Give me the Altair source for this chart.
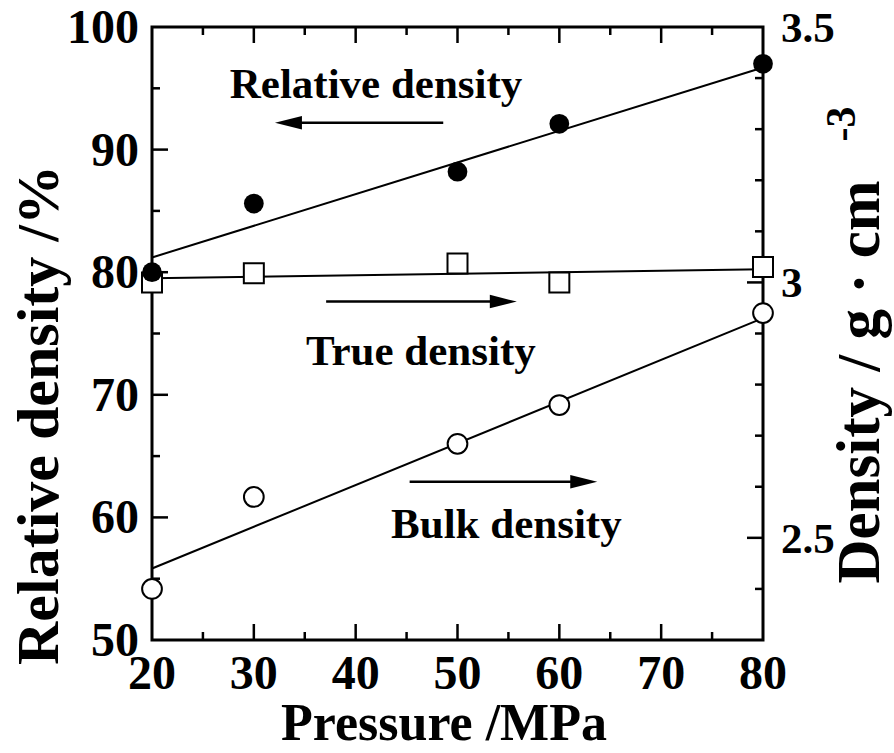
import altair as alt
import pandas as pd

# ---------------- data ----------------
pressure = [20, 30, 50, 60, 80]
relative_density = [80.0, 85.6, 88.2, 92.1, 97.0]      # left axis (%)
true_density = [3.00, 3.018, 3.037, 3.00, 3.03]        # right axis (g/cm3)
bulk_density = [2.40, 2.58, 2.684, 2.76, 2.94]         # right axis (g/cm3)

fit_pressure = [20, 80]
relative_fit = [81.2, 96.7]
true_fit = [3.008, 3.026]
bulk_fit = [2.44, 2.93]

x_labels = [20, 30, 40, 50, 60, 70, 80]
x_major = [30, 40, 50, 60, 70]
x_minor = [25, 35, 45, 55, 65, 75]
left_labels = [50, 60, 70, 80, 90, 100]
left_major = [60, 70, 80, 90]
left_minor = [55, 65, 75, 85, 95]
right_labels = [2.5, 3.0, 3.5]
right_major = [2.5, 3.0]
right_minor = [2.4, 2.6, 2.7, 2.8, 2.9, 3.1, 3.2, 3.3, 3.4]

x_title = "Pressure /MPa"
left_title = "Relative density /%"
right_title = "Density / g · cm"
right_title_sup = "-3"

ann_text = ["Relative density", "True density", "Bulk density"]
ann_x = [42.0, 46.4, 54.8]
ann_y = [94.2, 72.4, 58.3]

arrow_x_start = [48.6, 37.1, 45.3]
arrow_x_head = [33.4, 54.5, 62.4]
arrow_y = [92.2, 77.6, 62.9]
arrow_dir = ["left", "right", "right"]

# ---------------- layout ----------------
W, H = 611, 613
FONT = "Liberation Serif"

xs = alt.Scale(domain=[20, 80], nice=False, zero=False)
ly = alt.Scale(domain=[50, 100], nice=False, zero=False)
ry = alt.Scale(domain=[2.3, 3.5], nice=False, zero=False)

main_df = pd.DataFrame({"p": pressure, "rel": relative_density,
                        "tru": true_density, "bulk": bulk_density})
fit_df = pd.DataFrame({"p": fit_pressure, "rel": relative_fit,
                       "tru": true_fit, "bulk": bulk_fit})

X = alt.X("p:Q", scale=xs, axis=None)


def txt(**kw):
    base = dict(font=FONT, fontWeight="bold", color="black")
    base.update(kw)
    return base


# ---------- right group (density g/cm3) ----------
true_line = alt.Chart(fit_df).mark_line(color="black", strokeWidth=2).encode(
    x=X, y=alt.Y("tru:Q", scale=ry, axis=None))
bulk_line = alt.Chart(fit_df).mark_line(color="black", strokeWidth=2).encode(
    x=X, y=alt.Y("bulk:Q", scale=ry, axis=None))
true_pts = alt.Chart(main_df).mark_point(shape="square", size=400, filled=True,
                                         fill="white", stroke="black", strokeWidth=2,
                                         opacity=1).encode(
    x=X, y=alt.Y("tru:Q", scale=ry, axis=None))
bulk_pts = alt.Chart(main_df).mark_point(shape="circle", size=390, filled=True,
                                         fill="white", stroke="black", strokeWidth=2,
                                         opacity=1).encode(
    x=X, y=alt.Y("bulk:Q", scale=ry, axis=None))

rmaj_df = pd.DataFrame({"v": right_major})
rmin_df = pd.DataFrame({"v": right_minor})
r_major_ticks = alt.Chart(rmaj_df).mark_rule(color="black", strokeWidth=2.5).encode(
    y=alt.Y("v:Q", scale=ry, axis=None), x=alt.value(W), x2=alt.value(W - 16))
r_minor_ticks = alt.Chart(rmin_df).mark_rule(color="black", strokeWidth=2.5).encode(
    y=alt.Y("v:Q", scale=ry, axis=None), x=alt.value(W), x2=alt.value(W - 8))

rl_df = pd.DataFrame({"v": right_labels, "t": [f"{v:g}" for v in right_labels]})
r_labels = alt.Chart(rl_df).mark_text(**txt(fontSize=43, align="left",
                                            baseline="alphabetic", dy=15)).encode(
    y=alt.Y("v:Q", scale=ry, axis=None), x=alt.value(W + 18), text="t:N")

rt_df = pd.DataFrame({"t": [right_title]})
r_title = alt.Chart(rt_df).mark_text(**txt(fontSize=61, angle=270, align="center",
                                           baseline="alphabetic")).encode(
    text="t:N", x=alt.value(W + 116), y=alt.value(355))
rs_df = pd.DataFrame({"t": [right_title_sup]})
r_sup = alt.Chart(rs_df).mark_text(**txt(fontSize=42, angle=270, align="center",
                                         baseline="alphabetic")).encode(
    text="t:N", x=alt.value(W + 92), y=alt.value(97))

right_group = alt.layer(true_line, bulk_line, r_major_ticks, r_minor_ticks,
                        true_pts, bulk_pts, r_labels, r_title, r_sup)

# ---------- left group (relative density %) ----------
rel_line = alt.Chart(fit_df).mark_line(color="black", strokeWidth=2).encode(
    x=X, y=alt.Y("rel:Q", scale=ly, axis=None))
rel_pts = alt.Chart(main_df).mark_point(shape="circle", size=390, filled=True,
                                        color="black", opacity=1).encode(
    x=X, y=alt.Y("rel:Q", scale=ly, axis=None))

lmaj_df = pd.DataFrame({"v": left_major})
lmin_df = pd.DataFrame({"v": left_minor})
l_major_ticks = alt.Chart(lmaj_df).mark_rule(color="black", strokeWidth=2.5).encode(
    y=alt.Y("v:Q", scale=ly, axis=None), x=alt.value(0), x2=alt.value(16))
l_minor_ticks = alt.Chart(lmin_df).mark_rule(color="black", strokeWidth=2.5).encode(
    y=alt.Y("v:Q", scale=ly, axis=None), x=alt.value(0), x2=alt.value(8))

ll_df = pd.DataFrame({"v": left_labels, "t": [str(v) for v in left_labels]})
l_labels = alt.Chart(ll_df).mark_text(**txt(fontSize=48, align="right",
                                            baseline="alphabetic", dy=16)).encode(
    y=alt.Y("v:Q", scale=ly, axis=None), x=alt.value(-13), text="t:N")

lt_df = pd.DataFrame({"t": [left_title]})
l_title = alt.Chart(lt_df).mark_text(**txt(fontSize=60, angle=270, align="center",
                                           baseline="alphabetic")).encode(
    text="t:N", x=alt.value(-94), y=alt.value(388))

xmaj_df = pd.DataFrame({"v": x_major})
xmin_df = pd.DataFrame({"v": x_minor})
xb_major = alt.Chart(xmaj_df).mark_rule(color="black", strokeWidth=2.5).encode(
    x=alt.X("v:Q", scale=xs, axis=None), y=alt.value(H), y2=alt.value(H - 16))
xb_minor = alt.Chart(xmin_df).mark_rule(color="black", strokeWidth=2.5).encode(
    x=alt.X("v:Q", scale=xs, axis=None), y=alt.value(H), y2=alt.value(H - 8))
xt_major = alt.Chart(xmaj_df).mark_rule(color="black", strokeWidth=2.5).encode(
    x=alt.X("v:Q", scale=xs, axis=None), y=alt.value(0), y2=alt.value(16))
xt_minor = alt.Chart(xmin_df).mark_rule(color="black", strokeWidth=2.5).encode(
    x=alt.X("v:Q", scale=xs, axis=None), y=alt.value(0), y2=alt.value(8))

xl_df = pd.DataFrame({"v": x_labels, "t": [str(v) for v in x_labels]})
x_tick_labels = alt.Chart(xl_df).mark_text(**txt(fontSize=48, align="center",
                                                 baseline="alphabetic")).encode(
    x=alt.X("v:Q", scale=xs, axis=None), y=alt.value(H + 49), text="t:N")

xt_df = pd.DataFrame({"t": [x_title]})
x_title_mark = alt.Chart(xt_df).mark_text(**txt(fontSize=52, align="center",
                                                baseline="alphabetic")).encode(
    text="t:N", x=alt.value(292), y=alt.value(H + 100))

ann_df = pd.DataFrame({"t": ann_text, "x": ann_x, "y": ann_y})
ann = alt.Chart(ann_df).mark_text(**txt(fontSize=43, align="center",
                                        baseline="alphabetic")).encode(
    text="t:N", x=alt.X("x:Q", scale=xs, axis=None),
    y=alt.Y("y:Q", scale=ly, axis=None))

arr_df = pd.DataFrame({"x1": arrow_x_start, "x2": arrow_x_head, "y": arrow_y,
                       "d": arrow_dir})
arrow_body = alt.Chart(arr_df).mark_rule(color="black", strokeWidth=2.5).encode(
    x=alt.X("x1:Q", scale=xs, axis=None), x2="x2:Q",
    y=alt.Y("y:Q", scale=ly, axis=None))
head_left = alt.Chart(arr_df).transform_filter(alt.datum.d == "left").mark_point(
    shape="M-1,0L1,-0.5L1,0.5Z", size=729, filled=True, color="black",
    opacity=1).encode(x=alt.X("x2:Q", scale=xs, axis=None),
                      y=alt.Y("y:Q", scale=ly, axis=None))
head_right = alt.Chart(arr_df).transform_filter(alt.datum.d == "right").mark_point(
    shape="M1,0L-1,-0.5L-1,0.5Z", size=729, filled=True, color="black",
    opacity=1).encode(x=alt.X("x2:Q", scale=xs, axis=None),
                      y=alt.Y("y:Q", scale=ly, axis=None))

left_group = alt.layer(l_major_ticks, l_minor_ticks, xb_major, xb_minor, xt_major,
                       xt_minor, l_labels, l_title, x_tick_labels, x_title_mark,
                       ann, arrow_body, head_left, head_right, rel_line, rel_pts)

chart = alt.layer(right_group, left_group).resolve_scale(y="independent").properties(
    width=W, height=H,
    autosize=alt.AutoSizeParams(type="none"),
    padding={"left": 152, "top": 27, "right": 131, "bottom": 113},
    background="white",
).configure_view(stroke="black", strokeWidth=3)

chart.save("out.html", embed_options={"renderer": "svg", "actions": False})
